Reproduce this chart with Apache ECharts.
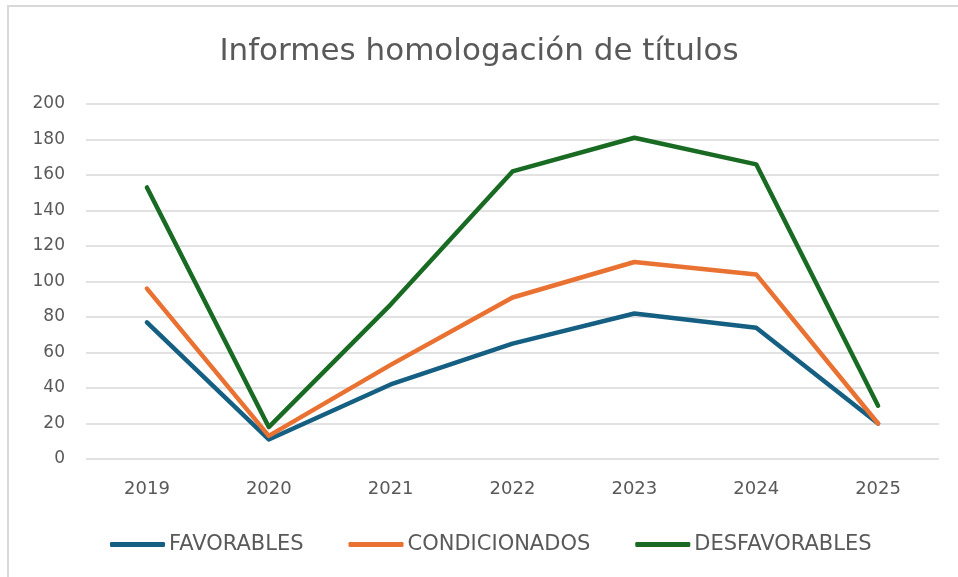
<!DOCTYPE html>
<html>
<head>
<meta charset="utf-8">
<script src="https://cdn.jsdelivr.net/npm/echarts@6/dist/echarts.min.js"></script>
<style>
html,body{margin:0;padding:0;background:#fff;}
#chart{width:958px;height:577px;}
</style>
</head>
<body>
<div id="chart"></div>
<script>
const titleText = 'Informes homologación de títulos';
const years = ['2019','2020','2021','2022','2023','2024','2025'];
const favorables = [77, 11, 42, 65, 82, 74, 20];
const condicionados = [96, 13, 53, 91, 111, 104, 20];
const desfavorables = [153, 18, 87, 162, 181, 166, 30];
const yTicks = [0, 20, 40, 60, 80, 100, 120, 140, 160, 180, 200];

const FONT = 'DejaVu Sans';
const GREY = '#595959';

const chart = echarts.init(document.getElementById('chart'), null, {renderer: 'canvas'});

function lineSeries(name, data, color) {
  return {
    name: name,
    type: 'line',
    data: data,
    showSymbol: false,
    symbol: 'none',
    lineStyle: {width: 4.5, color: color, cap: 'round', join: 'round'},
    itemStyle: {color: color},
    emphasis: {disabled: true},
    animation: false
  };
}

chart.setOption({
  backgroundColor: '#fff',
  animation: false,
  graphic: [{
    type: 'rect',
    shape: {x: 8, y: 6, width: 970, height: 600},
    style: {fill: 'none', stroke: '#d9d9d9', lineWidth: 2},
    silent: true
  }],
  title: {
    text: titleText,
    left: 'center',
    top: 31,
    textStyle: {fontFamily: FONT, fontSize: 31, fontWeight: 'normal', color: GREY}
  },
  grid: {left: 86, right: 19, top: 104, bottom: 118, containLabel: false},
  xAxis: {
    type: 'category',
    data: years,
    boundaryGap: true,
    axisLine: {show: false},
    axisTick: {show: false},
    axisLabel: {fontFamily: FONT, fontSize: 18, color: GREY, margin: 21}
  },
  yAxis: {
    type: 'value',
    min: yTicks[0],
    max: yTicks[yTicks.length - 1],
    interval: yTicks[1] - yTicks[0],
    axisLine: {show: false},
    axisTick: {show: false},
    splitLine: {lineStyle: {color: '#d9d9d9', width: 1.5}},
    axisLabel: {fontFamily: FONT, fontSize: 17, color: GREY, margin: 21}
  },
  legend: {
    top: 529,
    left: 105,
    icon: 'roundRect',
    itemWidth: 55,
    itemHeight: 5,
    itemGap: 45,
    textStyle: {fontFamily: FONT, fontSize: 21, color: GREY, padding: [0, 0, 0, -1]},
    data: ['FAVORABLES', 'CONDICIONADOS', 'DESFAVORABLES']
  },
  series: [
    lineSeries('FAVORABLES', favorables, '#156082'),
    lineSeries('CONDICIONADOS', condicionados, '#E97132'),
    lineSeries('DESFAVORABLES', desfavorables, '#196B24')
  ]
});
</script>
</body>
</html>
